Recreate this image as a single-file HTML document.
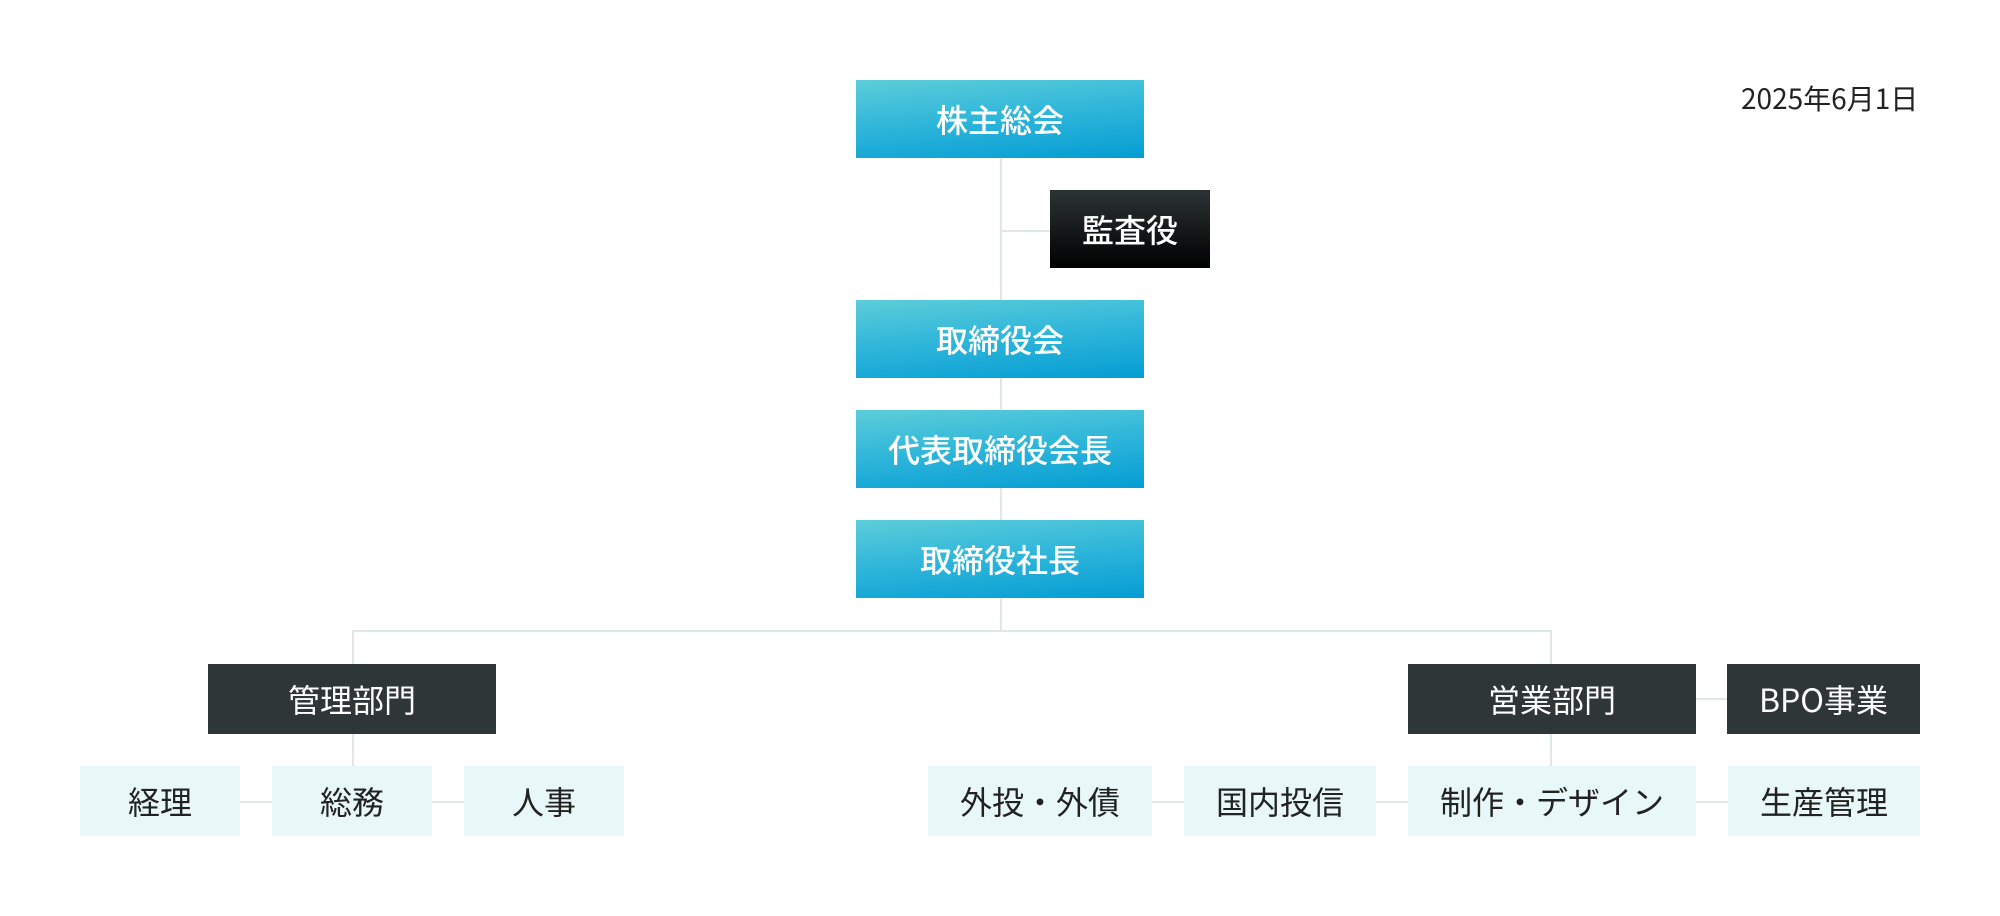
<!DOCTYPE html>
<html><head><meta charset="utf-8"><style>
html,body{margin:0;padding:0;background:#fff;}
body{width:2000px;height:916px;position:relative;overflow:hidden;font-family:"Liberation Sans","Noto Sans CJK JP",sans-serif;}
.b{position:absolute;display:flex;align-items:center;justify-content:center;font-size:32px;line-height:1;font-family:"Noto Sans CJK JP","Liberation Sans",sans-serif;white-space:nowrap;}
.c{background:linear-gradient(175deg,#5ccdd9 0%,#2db5da 50%,#049dd3 100%);color:#fff;font-weight:500;}
.k{background:linear-gradient(180deg,#2c3335 0%,#000 100%);color:#fff;font-weight:500;}
.d{background:#2f3638;color:#fff;}
.l{background:#e8f8f9;color:#222;}
.ln{position:absolute;background:#e1e6e6;}
.date{position:absolute;left:1741px;top:80px;font-size:28px;color:#222;font-family:"Noto Sans CJK JP","Liberation Sans",sans-serif;line-height:36px;}
</style></head><body>
<!-- connectors -->
<div class="ln" style="left:1000px;top:158px;width:2px;height:474px;"></div>
<div class="ln" style="left:1001px;top:230px;width:50px;height:2px;"></div>
<div class="ln" style="left:352px;top:630px;width:1200px;height:2px;"></div>
<div class="ln" style="left:352px;top:630px;width:2px;height:136px;"></div>
<div class="ln" style="left:1550px;top:630px;width:2px;height:136px;"></div>
<div class="ln" style="left:1696px;top:698px;width:32px;height:2px;"></div>
<div class="ln" style="left:240px;top:801px;width:224px;height:2px;"></div>
<div class="ln" style="left:1152px;top:801px;width:576px;height:2px;"></div>

<div class="date">2025年6月1日</div>

<div class="b c" style="left:856px;top:80px;width:288px;height:78px;">株主総会</div>
<div class="b k" style="left:1050px;top:190px;width:160px;height:78px;">監査役</div>
<div class="b c" style="left:856px;top:300px;width:288px;height:78px;">取締役会</div>
<div class="b c" style="left:856px;top:410px;width:288px;height:78px;">代表取締役会長</div>
<div class="b c" style="left:856px;top:520px;width:288px;height:78px;">取締役社長</div>

<div class="b d" style="left:208px;top:664px;width:288px;height:70px;">管理部門</div>
<div class="b d" style="left:1408px;top:664px;width:288px;height:70px;">営業部門</div>
<div class="b d" style="left:1727px;top:664px;width:193px;height:70px;">BPO事業</div>

<div class="b l" style="left:80px;top:766px;width:160px;height:70px;">経理</div>
<div class="b l" style="left:272px;top:766px;width:160px;height:70px;">総務</div>
<div class="b l" style="left:464px;top:766px;width:160px;height:70px;">人事</div>
<div class="b l" style="left:928px;top:766px;width:224px;height:70px;">外投・外債</div>
<div class="b l" style="left:1184px;top:766px;width:192px;height:70px;">国内投信</div>
<div class="b l" style="left:1408px;top:766px;width:288px;height:70px;">制作・デザイン</div>
<div class="b l" style="left:1728px;top:766px;width:192px;height:70px;">生産管理</div>
</body></html>
